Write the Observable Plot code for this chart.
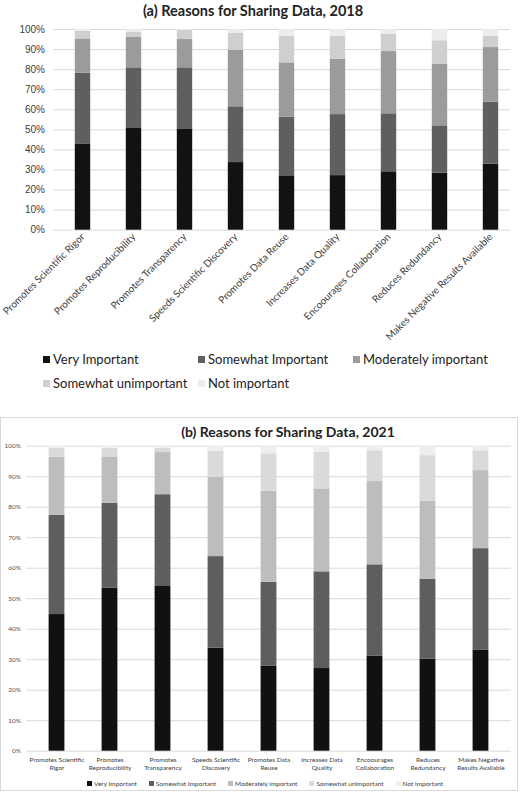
<!DOCTYPE html>
<html>
<head>
<meta charset="utf-8">
<script src="https://cdn.jsdelivr.net/npm/d3@7"></script>
<script src="https://cdn.jsdelivr.net/npm/@observablehq/plot@0.6"></script>
<style>
  html, body { margin: 0; padding: 0; background: #fff; }
  #root { position: relative; width: 520px; height: 795px; overflow: hidden; font-family: Lato, "Liberation Sans", sans-serif; }
  .abs { position: absolute; }
  .title { font-weight: bold; color: #222; text-align: center; white-space: nowrap; }
  .leg1 { display: grid; grid-template-columns: 155px 155px 160px; grid-auto-rows: 24px; align-items: center; font-size: 13px; color: #222; }
  .leg1 .it, .leg2 .it { display: flex; align-items: center; white-space: nowrap; }
  .leg1 .sw { width: 7px; height: 7px; margin-right: 3px; }
  .leg2 { display: flex; gap: 12px; font-size: 6.5px; color: #404040; align-items: center; }
  .leg2 .sw { width: 5px; height: 5px; margin-right: 2px; }
  #box { left: 0; top: 417px; width: 518px; height: 374px; box-sizing: border-box; border: 1px solid #d9d9d9; }
</style>
</head>
<body>
<div id="root">
  <div class="abs title" id="t1" style="left:0;top:2px;width:506px;font-size:14.5px;">(a) Reasons for Sharing Data, 2018</div>
  <div class="abs" id="c1" style="left:0;top:22px;"></div>
  <div class="abs leg1" id="l1" style="left:43px;top:347px;"></div>
  <div class="abs" id="box"></div>
  <div class="abs title" id="t2" style="left:88px;top:423px;width:400px;font-size:14px;">(b) Reasons for Sharing Data, 2021</div>
  <div class="abs" id="c2" style="left:0;top:440px;"></div>
  <div class="abs leg2" id="l2" style="left:87px;top:779px;height:8px;"></div>
</div>
<script>
// ---- data ----
const categories = [
  "Promotes Scientific Rigor", "Promotes Reproducibility", "Promotes Transparency",
  "Speeds Scientific Discovery", "Promotes Data Reuse", "Increases Data Quality",
  "Encoourages Collaboration", "Reduces Redundancy", "Makes Negative Results Available"
];
const labels2021 = [
  "Promotes Scientific\nRigor", "Promotes\nReproducibility", "Promotes\nTransparency",
  "Speeds Scientific\nDiscovery", "Promotes Data\nReuse", "Increases Data\nQuality",
  "Encoourages\nCollaboration", "Reduces\nRedundancy", "Makes Negative\nResults Available"
];
const levels2018 = ["Very Important", "Somewhat Important", "Moderately important", "Somewhat unimportant", "Not important"];
const levels2021 = ["Very Important", "Somewhat Important", "Moderately important", "Somewhat unimportant", "Not important"];
const colors2018 = ["#121212", "#5f5f5f", "#9b9b9b", "#cfcfcf", "#ececec"];
const colors2021 = ["#111111", "#5e5e5e", "#bdbdbd", "#dadada", "#eeeeee"];
const yTicks = [0, 10, 20, 30, 40, 50, 60, 70, 80, 90, 100];

// 2018 values (%), one array per level, in category order
const veryImp2018     = [43.0, 51.0, 50.5, 33.7, 27.1, 27.2, 29.1, 28.4, 32.9];
const somewhatImp2018 = [35.2, 29.9, 30.4, 27.8, 29.2, 30.4, 28.9, 23.6, 30.9];
const moderately2018  = [17.1, 15.1, 14.1, 28.2, 27.1, 27.6, 31.0, 30.6, 27.2];
const somewhatUn2018  = [ 3.7,  2.7,  4.6,  8.3, 13.3, 11.5,  8.7, 11.8,  5.7];
const notImp2018      = [ 1.0,  1.3,  0.4,  2.0,  3.3,  3.3,  2.3,  5.6,  3.3];

// 2021 values (%)
const veryImp2021     = [44.8, 53.4, 54.0, 33.8, 27.8, 27.1, 31.1, 30.2, 33.2];
const somewhatImp2021 = [32.5, 27.9, 30.1, 30.0, 27.6, 31.7, 30.0, 26.2, 33.2];
const moderately2021  = [19.1, 15.0, 13.8, 26.0, 29.8, 27.2, 27.3, 25.6, 25.6];
const somewhatUn2021  = [ 2.9,  3.0,  1.5,  8.5, 12.3, 12.0, 10.1, 14.9,  6.5];
const notImp2021      = [ 0.7,  0.7,  0.6,  1.7,  2.5,  2.0,  1.5,  3.1,  1.5];

function rows(levels, series) {
  const out = [];
  levels.forEach((lv, i) => series[i].forEach((v, j) => out.push({cat: categories[j], level: lv, value: v})));
  return out;
}
const data2018 = rows(levels2018, [veryImp2018, somewhatImp2018, moderately2018, somewhatUn2018, notImp2018]);
const data2021 = rows(levels2021, [veryImp2021, somewhatImp2021, moderately2021, somewhatUn2021, notImp2021]);

// ---- chart (a) ----
const p1 = Plot.plot({
  width: 520, height: 326,
  marginTop: 7, marginBottom: 118.3, marginLeft: 54, marginRight: 1,
  style: {fontFamily: "Lato, sans-serif", background: "transparent", overflow: "visible"},
  x: {domain: categories, padding: 0, label: null},
  y: {domain: [0, 100], label: null},
  color: {domain: levels2018, range: colors2018},
  marks: [
    Plot.ruleY(yTicks, {stroke: "#d9d9d9", strokeWidth: 1, insetRight: 9, insetLeft: -1}),
    Plot.barY(data2018, {x: "cat", y: "value", fill: "level", insetLeft: 17.8, insetRight: 17.8}),
    Plot.axisY({ticks: yTicks, tickSize: 0, tickPadding: 9.5, tickFormat: d => d + "%", fontSize: 10, fill: "#404040", fontFamily: "Liberation Sans, sans-serif", label: null}),
    Plot.axisX({tickSize: 0, tickPadding: 5, tickRotate: -45, fontSize: 10, fill: "#404040", label: null})
  ]
});
document.getElementById("c1").appendChild(p1);

// ---- chart (b) ----
const p2 = Plot.plot({
  width: 520, height: 338.7,
  marginTop: 5.7, marginBottom: 28, marginLeft: 26.4, marginRight: 9.1,
  style: {fontFamily: "Lato, sans-serif", background: "transparent", overflow: "visible"},
  x: {domain: categories, padding: 0, label: null},
  y: {domain: [0, 100], label: null},
  color: {domain: levels2021, range: colors2021},
  marks: [
    Plot.ruleY(yTicks, {stroke: "#d9d9d9", strokeWidth: 1}),
    Plot.barY(data2021, {x: "cat", y: "value", fill: "level", insetLeft: 18.6, insetRight: 18.6}),
    Plot.axisY({ticks: yTicks, tickSize: 0, tickPadding: 6, tickFormat: d => d + "%", fontSize: 6.5, fill: "#505050", label: null}),
    Plot.axisX({tickSize: 0, tickPadding: 5, fontSize: 6.5, lineHeight: 1.28, fill: "#404040", label: null,
      tickFormat: d => labels2021[categories.indexOf(d)]})
  ]
});
document.getElementById("c2").appendChild(p2);

// ---- legends ----
function legend(el, levels, colors) {
  levels.forEach((lv, i) => {
    const it = document.createElement("div"); it.className = "it";
    const sw = document.createElement("span"); sw.className = "sw"; sw.style.background = colors[i];
    const tx = document.createElement("span"); tx.textContent = lv;
    it.appendChild(sw); it.appendChild(tx); el.appendChild(it);
  });
}
legend(document.getElementById("l1"), levels2018, colors2018);
legend(document.getElementById("l2"), levels2021, colors2021);
</script>
</body>
</html>
